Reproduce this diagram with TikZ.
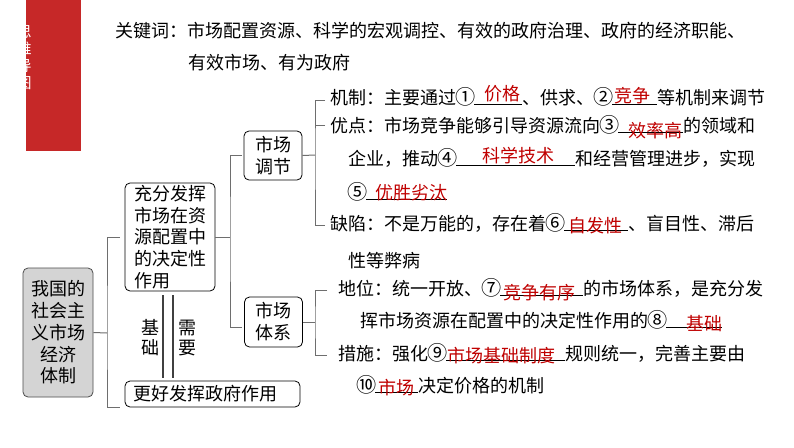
\documentclass[tikz,border=0pt]{standalone}
\usepackage{fontspec}
\usepackage{graphicx}
\setmainfont{Noto Sans CJK SC}
\usetikzlibrary{calc}
\definecolor{barred}{RGB}{198,40,40}
\definecolor{ansred}{RGB}{192,0,0}
\definecolor{linegray}{RGB}{110,110,110}
\definecolor{boxgray}{RGB}{212,212,212}
\newcommand\fillin[4]{\makebox[#1][l]{\rlap{\rule[-0.3pt]{#1}{0.7pt}}\hspace*{#2}\raisebox{#3}{\textcolor{ansred}{#4}}}}
\newcommand\cnum[1]{\makebox[18pt]{\raisebox{-0.8pt}{\scalebox{1.12}{#1}}}}
\tikzset{
  txt/.style={inner sep=0pt, anchor=base west, font=\fontsize{18pt}{22pt}\selectfont},
  rbox/.style={draw=black, line width=0.8pt, rounded corners=5pt, fill=white, inner sep=0pt},
  conn/.style={draw=linegray, line width=1pt},
  pillar/.style={draw=black!75, line width=1.2pt},
}
\begin{document}
\begin{tikzpicture}[x=1pt,y=-1pt]
\useasboundingbox (0,0) rectangle (794,447);
\fill[white] (0,0) rectangle (794,447);
% red side bar
\fill[barred] (26,0) rectangle (81,151);
\begin{scope}
\clip (26,0) rectangle (81,151);
\node[white, inner sep=0pt, align=center, font=\fontsize{15pt}{17pt}\selectfont] (bartext) at (24,58) {思\\维\\导\\图};
\end{scope}
% keywords
\node[txt] (kw1) at (115,37) {关键词：市场配置资源、科学的宏观调控、有效的政府治理、政府的经济职能、};
\node[txt] (kw2) at (188,69) {有效市场、有为政府};
% boxes
\node[rbox, fill=boxgray, draw=black!70, minimum width=70pt, minimum height=129pt, align=center,
  font=\fontsize{18pt}{21.7pt}\selectfont] (main) at (58,332.5) {我国的\\社会主\\义市场\\经济\\体制};
\node[rbox, text width=72pt, inner xsep=9pt, minimum height=108pt, align=left,
  font=\fontsize{18pt}{21.7pt}\selectfont] (cf) at (170,237) {充分发挥\\市场在资\\源配置中\\的决定性\\作用};
\node[rbox, text width=159pt, inner xsep=8pt, minimum height=26pt, align=left,
  font=\fontsize{18pt}{22pt}\selectfont] (gh) at (212.5,394) {更好发挥政府作用};
\node[rbox, minimum width=58pt, minimum height=49pt, align=center,
  font=\fontsize{18pt}{22pt}\selectfont] (sctj) at (273,155.5) {市场\\调节};
\node[rbox, minimum width=58pt, minimum height=50pt, align=center,
  font=\fontsize{18pt}{22pt}\selectfont] (sctx) at (273.5,322) {市场\\体系};
% labels between boxes
\node[inner sep=0pt, align=center, font=\fontsize{18pt}{20pt}\selectfont] (jc) at (150,338) {基\\础};
\node[inner sep=0pt, align=center, font=\fontsize{18pt}{20pt}\selectfont] (xy) at (187,338) {需\\要};
\coordinate (x1) at (163,0);
\coordinate (x2) at (173,0);
\draw[pillar] ($(cf.south -| x1)+(0,4)$) -- ($(gh.north -| x1)+(0,-3)$);
\draw[pillar] ($(cf.south -| x2)+(0,4)$) -- ($(gh.north -| x2)+(0,-3)$);
% brackets
\coordinate (b1) at (107,333);
\draw[conn] (main.east) -- (b1);
\draw[conn] ([xshift=-5pt]cf.west) -| (b1) |- ([xshift=-5pt]gh.south west);
\coordinate (b2) at (230,237);
\draw[conn] (cf.east) -- (b2);
\draw[conn] ([xshift=-2pt]sctj.west) -| (b2) |- ($(sctx.west)+(-2,5)$);
\coordinate (b3) at (315,155);
\draw[conn] (sctj.east) -- (b3);
\coordinate (t1) at (325,100);
\coordinate (t2) at (325,125);
\coordinate (t3) at (325,225);
\draw[conn] (t1) -| (b3) |- (t3);
\draw[conn] (t2) -- (t2 -| b3);
\coordinate (b4) at (315,322);
\draw[conn] (sctx.east) -- (b4);
\coordinate (t4) at (327,290);
\coordinate (t5) at (327,355);
\draw[conn] (t4) -| (b4) |- (t5);
% text lines
\node[txt] (l1) at (330,104) {机制：主要通过\cnum{①}\fillin{48pt}{10pt}{4pt}{价格}、供求、\cnum{②}\fillin{45pt}{2pt}{2pt}{竞争}等机制来调节};
\node[txt] (l2) at (330,132) {优点：市场竞争能够引导资源流向\cnum{③}\fillin{65pt}{10pt}{-5pt}{效率高}的领域和};
\node[txt] (l3) at (348,165) {企业，推动\cnum{④}\fillin{119pt}{26pt}{3pt}{科学技术}和经营管理进步，实现};
\node[txt] (l4) at (348,199) {\cnum{⑤}\fillin{81pt}{9pt}{0pt}{优胜劣汰}};
\node[txt] (l5) at (330,230) {缺陷：不是万能的，存在着\cnum{⑥}\fillin{64pt}{4pt}{-2pt}{自发性}、盲目性、滞后};
\node[txt] (l6) at (348,267) {性等弊病};
\node[txt] (l7) at (338,295) {地位：统一开放、\cnum{⑦}\fillin{83pt}{3pt}{-4pt}{竞争有序}的市场体系，是充分发};
\node[txt] (l8) at (360,327) {挥市场资源在配置中的决定性作用的\cnum{⑧}\fillin{56pt}{20pt}{-3pt}{基础}};
\node[txt] (l9) at (338,360) {措施：强化\cnum{⑨}\fillin{119pt}{1pt}{-2pt}{市场基础制度}规则统一，完善主要由};
\node[txt] (l10) at (357,392) {\cnum{⑩}\fillin{43pt}{3pt}{-2pt}{市场}决定价格的机制};
\end{tikzpicture}
\end{document}
